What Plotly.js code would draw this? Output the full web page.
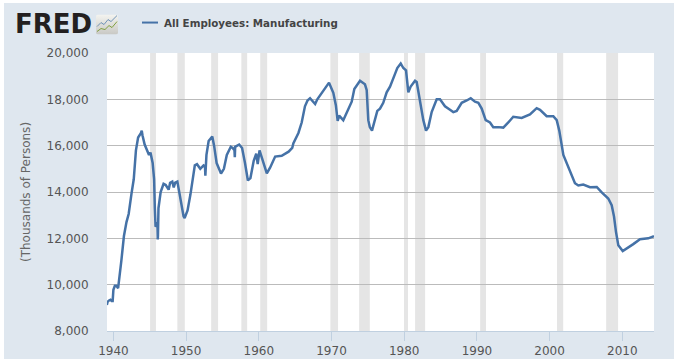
<!DOCTYPE html>
<html>
<head>
<meta charset="utf-8">
<script src="https://cdn.plot.ly/plotly-3.0.1.min.js"></script>
<style>
html,body{margin:0;padding:0;background:#fff;overflow:hidden}
#chart{position:absolute;left:4px;top:3px;width:670px;height:356px}
</style>
</head>
<body>
<div id="chart"></div>
<script>
const seriesName = "All Employees: Manufacturing";
const yAxisTitle = "(Thousands of Persons)";
const years = [1939.1,1939.2,1939.4,1939.6,1939.75,1939.9,1940.0,1940.2,1940.4,1940.55,1940.65,1941.1,1941.45,1941.8,1942.1,1942.5,1942.8,1943.1,1943.4,1943.8,1943.9,1944.0,1944.3,1944.9,1945.1,1945.4,1945.6,1945.7,1945.8,1946.0,1946.05,1946.1,1946.13,1946.2,1946.5,1946.9,1947.2,1947.4,1947.6,1947.8,1948.1,1948.3,1948.5,1948.8,1949.0,1949.3,1949.55,1949.65,1949.8,1950.2,1950.6,1950.9,1951.0,1951.2,1951.5,1951.95,1952.4,1952.6,1952.65,1952.8,1953.1,1953.6,1953.85,1954.2,1954.8,1955.2,1955.6,1956.15,1956.4,1956.65,1956.7,1956.75,1957.3,1957.7,1958.1,1958.5,1958.85,1959.3,1959.65,1959.75,1959.85,1960.1,1960.6,1961.1,1961.55,1962.25,1963.15,1964.1,1964.6,1964.75,1965.45,1965.9,1966.35,1966.7,1967.05,1967.75,1968.05,1968.65,1969.66,1970.25,1970.6,1970.85,1971.05,1971.62,1972.31,1972.78,1973.14,1973.47,1973.92,1974.6,1974.84,1975.06,1975.27,1975.57,1975.98,1976.3,1976.67,1977.12,1977.59,1978.05,1978.74,1979.05,1979.52,1979.88,1980.25,1980.57,1980.89,1981.49,1981.72,1982.17,1982.63,1983.0,1983.32,1983.78,1984.47,1984.92,1985.61,1986.3,1986.75,1987.22,1987.91,1988.6,1989.15,1989.74,1990.2,1990.66,1991.21,1991.8,1992.25,1992.94,1993.63,1994.32,1995.0,1996.16,1997.3,1998.22,1998.68,1999.6,2000.51,2000.98,2001.33,2001.89,2002.35,2002.8,2003.49,2003.95,2004.63,2005.55,2006.48,2007.17,2008.07,2008.54,2008.86,2009.13,2009.45,2010.06,2010.61,2011.51,2012.43,2013.57,2014.36];
const employees = [9120,9260,9320,9350,9300,9300,9780,9950,9950,9870,9850,11050,12100,12700,13050,13950,14550,15800,16350,16550,16650,16450,16050,15600,15700,15250,14550,13300,12500,12600,12700,11950,12100,13300,14000,14350,14300,14200,14100,14400,14450,14200,14400,14450,14050,13500,13100,12950,12880,13200,13900,14500,14750,15150,15200,15000,15150,15100,14700,15600,16200,16400,16000,15250,14800,15000,15600,15950,15900,15800,15500,15950,16050,15900,15250,14500,14600,15350,15650,15450,15200,15800,15350,14800,15050,15530,15560,15740,15900,16100,16550,17000,17700,17950,18050,17800,18000,18280,18720,18280,17750,17070,17300,17100,17600,17900,18450,18600,18800,18650,18400,17100,16800,16650,17150,17500,17600,17850,18300,18550,19100,19350,19550,19350,19250,18300,18550,18800,18750,17900,17100,16650,16800,17450,18000,18000,17700,17550,17450,17500,17850,17950,18050,17900,17850,17600,17100,17000,16800,16800,16780,17000,17250,17200,17350,17620,17550,17270,17270,17100,16650,15600,15250,14850,14380,14280,14320,14210,14220,13980,13720,13430,12940,12280,11700,11450,11550,11750,11960,12000,12090];
const recessionStart = [1945.05,1948.8,1953.45,1957.6,1960.2,1969.85,1973.8,1979.97,1981.5,1990.45,2001.02,2007.78];
const recessionEnd   = [1945.85,1949.82,1954.4,1958.4,1961.15,1970.9,1975.27,1980.52,1982.88,1991.25,2001.87,2009.42];
const xTicks = [1940,1950,1960,1970,1980,1990,2000,2010];
const yTicks = [8000,10000,12000,14000,16000,18000,20000];

const W = 670, H = 356;
const M = {l:103, r:20, t:49.5, b:28};
const px = x => (x - 4 - M.l) / (W - M.l - M.r);
const py = y => 1 - (y - 3 - M.t) / (H - M.t - M.b);

const shapes = recessionStart.map((s,i)=>({
  type:'rect', xref:'x', yref:'paper', x0:s, x1:recessionEnd[i], y0:0, y1:1,
  fillcolor:'#e5e5e5', line:{width:0}, layer:'below'
}));
shapes.push({type:'line', xref:'paper', yref:'paper', x0:px(142), x1:px(158), y0:py(22), y1:py(22),
  line:{color:'#4572a7', width:2}});

const icon = 'data:image/svg+xml;utf8,' + encodeURIComponent(
 '<svg xmlns="http://www.w3.org/2000/svg" width="22" height="20" viewBox="0 0 22 20">'+
 '<defs><linearGradient id="g" x1="0" y1="0" x2="0" y2="1"><stop offset="0" stop-color="#f4f4f0"/><stop offset="1" stop-color="#c8c8c4"/></linearGradient></defs>'+
 '<rect width="22" height="20" rx="2" fill="url(#g)"/>'+
 '<polyline points="1,12 5,8 8,10 12,5 15,7 21,1" fill="none" stroke="#6f93b8" stroke-width="1"/>'+
 '<polyline points="1,17 5,14 9,15 13,11 16,13 21,7" fill="none" stroke="#7f9f3f" stroke-width="1"/></svg>');

Plotly.newPlot('chart', [{
  x: years, y: employees, type:'scatter', mode:'lines', name: seriesName,
  line:{color:'#4572a7', width:2.5, shape:'linear'}, hoverinfo:'x+y', showlegend:false
}], {
  width:W, height:H, margin:M, paper_bgcolor:'#dfe7ef', plot_bgcolor:'#ffffff',
  font:{family:'"DejaVu Sans", Verdana, sans-serif', size:12, color:'#555555'},
  showlegend:false,
  xaxis:{type:'linear', range:[1939.12,2014.36], tickmode:'array', tickvals:xTicks, ticktext:xTicks.map(String),
    showgrid:false, zeroline:false, showline:true, linecolor:'#c0d0e0', linewidth:1,
    ticks:'outside', ticklen:9, tickcolor:'#c0d0e0', tickwidth:1, tickfont:{size:12,color:'#555555'}},
  yaxis:{range:[8000,20000], tickmode:'array', tickvals:yTicks, tickformat:',d',
    showgrid:true, gridcolor:'#bbbbbb', gridwidth:1, zeroline:false, showline:false,
    ticks:'outside', ticklen:15, tickcolor:'rgba(0,0,0,0)', tickfont:{size:12,color:'#555555'},
    title:{text:yAxisTitle, font:{size:12,color:'#666666'}, standoff:13}},
  shapes,
  images:[{source:icon, xref:'paper', yref:'paper', x:px(96), y:py(14), sizex:22/(W-M.l-M.r), sizey:20/(H-M.t-M.b),
    sizing:'stretch', xanchor:'left', yanchor:'top', layer:'above'}],
  annotations:[
    {xref:'paper', yref:'paper', x:px(13), y:py(23.5), xanchor:'left', yanchor:'middle', showarrow:false,
     text:'<b>FRED</b>', font:{family:'"DejaVu Sans", sans-serif', size:26, color:'#231f20'}},
    {xref:'paper', yref:'paper', x:px(162), y:py(22), xanchor:'left', yanchor:'middle', showarrow:false,
     text:'<b>'+seriesName+'</b>', font:{family:'"DejaVu Sans", sans-serif', size:10.3, color:'#444444'}}
  ]
}, {displayModeBar:false, staticPlot:true});
</script>
</body>
</html>
